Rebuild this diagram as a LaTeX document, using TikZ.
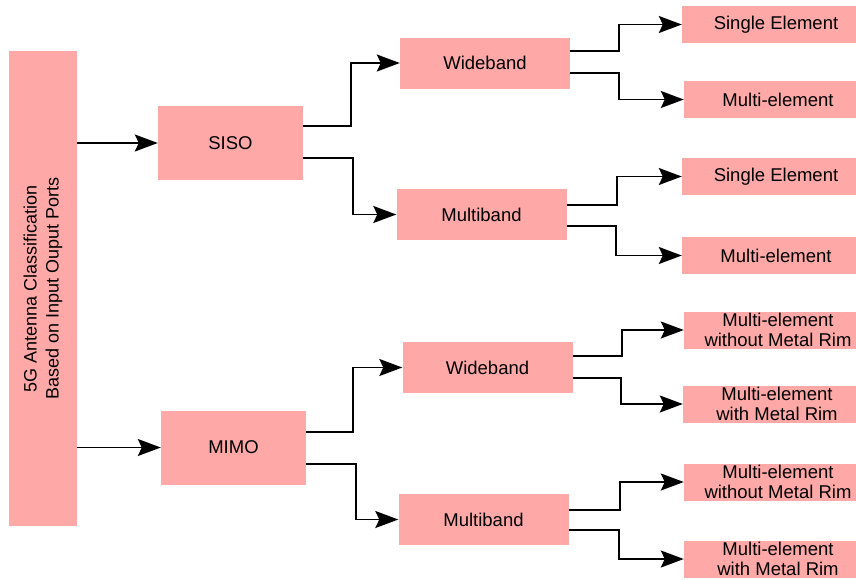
\documentclass[tikz,border=0pt]{standalone}
\usepackage{fontspec}
\setmainfont{Liberation Sans}
\usepackage{tikz}
\usetikzlibrary{arrows.meta}
\definecolor{boxpink}{HTML}{FFA8A8}
\tikzstyle{rootbox} = [rectangle, rotate=90, minimum width=475pt, minimum height=68pt, inner sep=0pt, align=center, fill=boxpink, font=\fontsize{18}{22}\selectfont]
\tikzstyle{typebox} = [rectangle, minimum width=145pt, minimum height=74pt, inner sep=0pt, text centered, fill=boxpink, font=\fontsize{18.5}{20}\selectfont]
\tikzstyle{bandbox} = [rectangle, minimum width=170pt, minimum height=51pt, inner sep=0pt, text centered, fill=boxpink, font=\fontsize{18.5}{20}\selectfont]
\tikzstyle{leafbox} = [rectangle, minimum width=188pt, minimum height=37pt, inner sep=0pt, align=center, fill=boxpink, font=\fontsize{18.5}{19.5}\selectfont]
\tikzstyle{arrow} = [line width=1.8pt, -{Stealth[length=23pt,width=17pt,inset=4pt]}]

\begin{document}
\begin{tikzpicture}[x=1pt, y=-1pt]
    \useasboundingbox (0,0) rectangle (856,579);

    \node (root) [rootbox] at (43,288.5) {5G Antenna Classification\\Based on Input Ouput Ports};
    \node (siso) [typebox] at (230.5,143) {SISO};
    \node (mimo) [typebox] at (233.5,447.5) {MIMO};

    \node (wband1) [bandbox] at (485,63) {Wideband};
    \node (mband1) [bandbox] at (481.5,214.5) {Multiband};
    \node (wband2) [bandbox] at (487.5,367.5) {Wideband};
    \node (mband2) [bandbox] at (483.5,519.5) {Multiband};

    \node (single1) [leafbox] at (776,24.5) {Single Element};
    \node (multi1) [leafbox] at (778,99.5) {Multi-element};
    \node (single2) [leafbox] at (776,176.5) {Single Element};
    \node (multi2) [leafbox] at (776,255.5) {Multi-element};
    \node (norim1) [leafbox] at (778,330) {Multi-element\\without Metal Rim};
    \node (rim1) [leafbox] at (777,404) {Multi-element\\with Metal Rim};
    \node (norim2) [leafbox] at (778,482) {Multi-element\\without Metal Rim};
    \node (rim2) [leafbox] at (778,559) {Multi-element\\with Metal Rim};

    \draw [arrow] (root.south |- siso.west) -- (siso.west);
    \draw [arrow] (root.south |- mimo.west) -- (mimo.west);

    \draw [arrow] ([yshift=17pt]siso.east) -- ++(48,0) |- (wband1.west);
    \draw [arrow] ([yshift=-15pt]siso.east) -- ++(50,0) |- (mband1.west);
    \draw [arrow] ([yshift=15.5pt]mimo.east) -- ++(47,0) |- (wband2.west);
    \draw [arrow] ([yshift=-16.5pt]mimo.east) -- ++(50,0) |- (mband2.west);

    \draw [arrow] ([yshift=12pt]wband1.east) -- ++(49,0) |- (single1.west);
    \draw [arrow] ([yshift=-10pt]wband1.east) -- ++(49,0) |- (multi1.west);
    \draw [arrow] ([yshift=9.5pt]mband1.east) -- ++(50,0) |- (single2.west);
    \draw [arrow] ([yshift=-11.5pt]mband1.east) -- ++(49,0) |- (multi2.west);
    \draw [arrow] ([yshift=11.5pt]wband2.east) -- ++(49,0) |- (norim1.west);
    \draw [arrow] ([yshift=-10.5pt]wband2.east) -- ++(48,0) |- (rim1.west);
    \draw [arrow] ([yshift=9.5pt]mband2.east) -- ++(51,0) |- (norim2.west);
    \draw [arrow] ([yshift=-10.5pt]mband2.east) -- ++(50,0) |- (rim2.west);
\end{tikzpicture}
\end{document}
